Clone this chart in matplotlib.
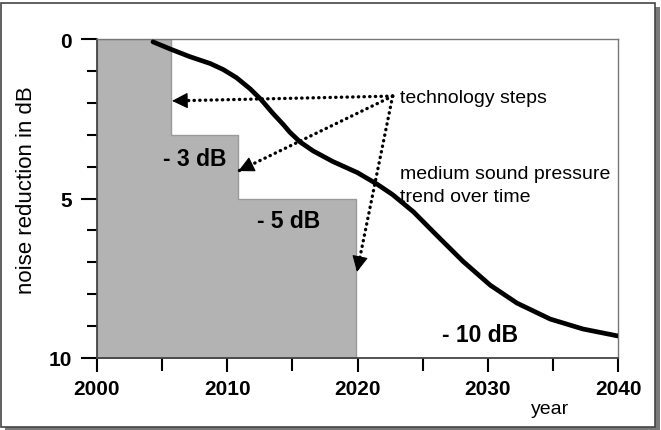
import matplotlib
matplotlib.use("Agg")
import matplotlib.pyplot as plt
from matplotlib.patches import Rectangle

plt.rcParams['font.family'] = ['Liberation Sans', 'DejaVu Sans']

# ---- data ----
step_edges = [2000, 2005.7, 2010.8, 2019.9]   # step boundaries (years)
step_levels = [0, 3, 5]                         # noise reduction level per step (dB)
floor_level = 10

trend_years = [2004.3, 2005.6, 2007.1, 2008.7, 2009.7, 2010.7, 2011.75, 2012.6,
               2013.5, 2014.3, 2014.8, 2015.6, 2016.6, 2018.1, 2020.0, 2021.5,
               2022.7, 2024.3, 2026.1, 2028.1, 2030.2, 2032.25, 2034.8, 2037.3, 2040.0]
trend_db = [0.09, 0.31, 0.55, 0.77, 0.96, 1.21, 1.56, 1.90,
            2.33, 2.68, 2.92, 3.23, 3.51, 3.84, 4.19, 4.55,
            4.88, 5.42, 6.16, 6.97, 7.72, 8.28, 8.78, 9.09, 9.31]

arrow_origin = (2022.7, 1.79)
arrow_tips = [(2005.76, 1.94), (2010.85, 4.14), (2019.96, 7.3)]

step_labels = ["- 3 dB", "- 5 dB", "- 10 dB"]
step_label_pos = [(2007.5, 3.76), (2014.7, 5.7), (2029.4, 9.25)]

x_major = [2000, 2010, 2020, 2030, 2040]
x_minor = [2005, 2015, 2025, 2035]
y_major = [0, 5, 10]
y_minor = [1, 2, 3, 4, 6, 7, 8, 9]

W, H = 661, 431
fig = plt.figure(figsize=(W / 100, H / 100), dpi=100)

# outer frame with drop shadow (pixel coords converted to figure fraction)
def px_rect(x0, y0, x1, y1, **kw):
    return Rectangle((x0 / W, 1 - y1 / H), (x1 - x0) / W, (y1 - y0) / H,
                     transform=fig.transFigure, **kw)

fig.patches.append(px_rect(5, 8, 659.5, 431, facecolor='#7a7a7a', edgecolor='none', zorder=0))
fig.patches.append(px_rect(1, 4, 655, 428, facecolor='white', edgecolor='#444444', lw=1.2, zorder=1))

ax = fig.add_axes([97 / W, 1 - 359 / H, (618 - 97) / W, (359 - 40) / H])
ax.set_zorder(2)

# gray steps
ax.fill_between(step_edges, step_levels + [step_levels[-1]], floor_level, step='post',
                facecolor='#b3b3b3', edgecolor='#9a9a9a', lw=1.0, zorder=1)

# trend curve
ax.plot(trend_years, trend_db, color='black', lw=3.4, solid_capstyle='round',
        solid_joinstyle='round', zorder=4)

# dotted arrows: dotted shaft + solid filled head
for tip in arrow_tips:
    ax.plot([arrow_origin[0], tip[0]], [arrow_origin[1], tip[1]], color='black',
            lw=2.4, linestyle=(0, (0.1, 1.6)), dash_capstyle='round', zorder=5)
    back = (tip[0] + 0.03 * (arrow_origin[0] - tip[0]),
            tip[1] + 0.03 * (arrow_origin[1] - tip[1]))
    ax.annotate('', xy=tip, xytext=back,
                arrowprops=dict(arrowstyle='-|>,head_length=1.0,head_width=0.5',
                                mutation_scale=10, lw=0.8, color='black',
                                shrinkA=0, shrinkB=0),
                zorder=5)

ax.text(2023.3, 1.82, "technology steps", fontsize=14, ha='left', va='center', zorder=6)
ax.text(2023.3, 4.23, "medium sound pressure", fontsize=14, ha='left', va='center', zorder=6)
ax.text(2023.3, 4.95, "trend over time", fontsize=14, ha='left', va='center', zorder=6)

for lab, (lx, ly) in zip(step_labels, step_label_pos):
    ax.text(lx, ly, lab, fontsize=16.5, fontweight='bold', ha='center', va='center', zorder=6)

ax.set_xlim(2000, 2040)
ax.set_ylim(10, 0)

ax.set_xticks(x_major)
ax.set_xticks(x_minor, minor=True)
ax.set_yticks(y_major)
ax.set_yticks(y_minor, minor=True)
ax.set_xticklabels([str(v) for v in x_major], fontsize=15, fontweight='bold')
ax.set_yticklabels([str(v) for v in y_major], fontsize=15, fontweight='bold')

ax.tick_params(axis='x', which='major', length=10, width=1.5, pad=5, direction='out')
ax.tick_params(axis='x', which='minor', length=9, width=1.5, direction='out')
ax.tick_params(axis='y', which='major', length=11.5, width=1.5, pad=6.5, direction='out')
ax.tick_params(axis='y', which='minor', length=7.2, width=1.5, direction='out')

for s in ['left', 'bottom']:
    ax.spines[s].set_color('#444444')
    ax.spines[s].set_linewidth(1.3)
for s in ['top', 'right']:
    ax.spines[s].set_color('#777777')
    ax.spines[s].set_linewidth(1.0)

fig.text(27 / W, 1 - 190 / H, "noise reduction in dB", fontsize=16, rotation=90,
         ha='center', va='center')
fig.text(550 / W, 1 - 410 / H, "year", fontsize=14, ha='center', va='center')

fig.savefig("out.png", dpi=100)
